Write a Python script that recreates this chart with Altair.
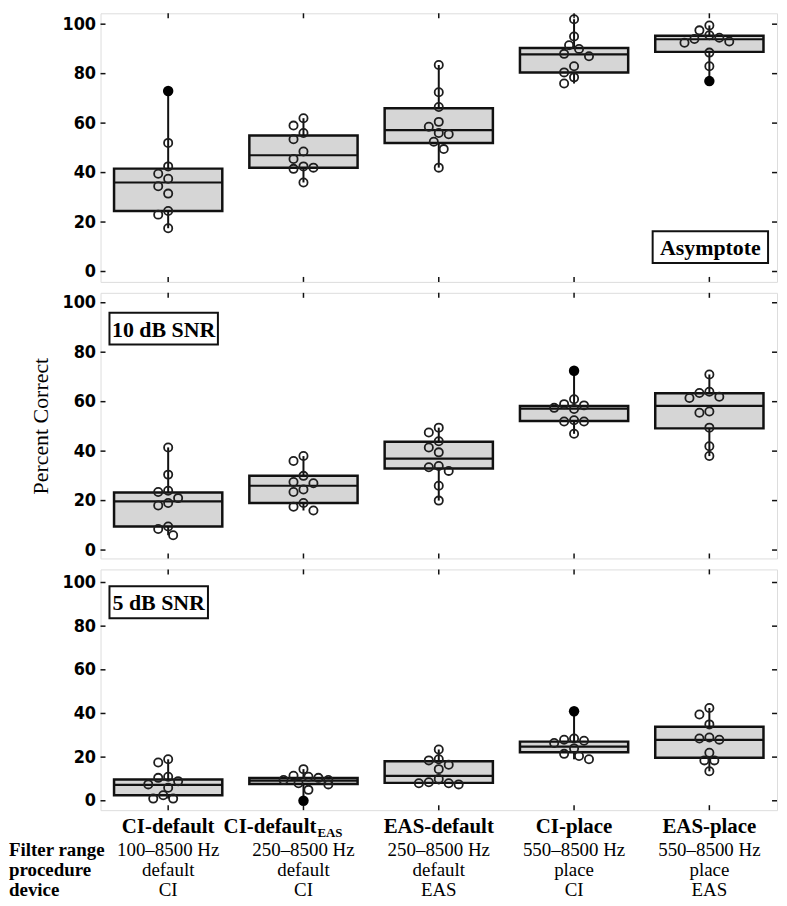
import altair as alt
import pandas as pd

# ---------------- data ----------------
categories = ["CI-default", "CI-default_EAS", "EAS-default", "CI-place", "EAS-place"]
header_main = ["CI-default", "CI-default", "EAS-default", "CI-place", "EAS-place"]
header_sub = ["", "EAS", "", "", ""]
row_names = ["Filter range", "procedure", "device"]
filter_range = ["100–8500 Hz", "250–8500 Hz", "250–8500 Hz", "550–8500 Hz", "550–8500 Hz"]
procedure = ["default", "default", "default", "place", "place"]
device = ["CI", "CI", "EAS", "CI", "EAS"]
panel_labels = ["Asymptote", "10 dB SNR", "5 dB SNR"]
y_ticks = [0, 20, 40, 60, 80, 100]

# Asymptote
asym_open = [
    [52, 42.5, 39.5, 37.5, 34.5, 31.5, 24.5, 23, 17.5],
    [62, 59, 56, 53.5, 48.5, 45.5, 42.5, 42, 41.5, 36],
    [83.5, 72.5, 66.5, 60.5, 58.5, 56, 55.5, 52.5, 49.5, 42],
    [102, 95, 91.5, 90, 88, 87, 83, 80.5, 78.5, 76],
    [99.5, 97.5, 95.5, 94.5, 94, 93, 92.5, 88.5, 83],
]
asym_filled = [[73], [], [], [], [77]]
asym_q1 = [24.5, 42, 52, 80.5, 88.8]
asym_med = [36, 47, 57.2, 87.8, 93.9]
asym_q3 = [41.6, 55, 66, 90.4, 95.3]

# 10 dB SNR
snr10_open = [
    [41.5, 30.5, 24, 23.5, 21, 19, 18, 9.5, 8.5, 6],
    [38, 36, 30, 27.5, 27, 24.5, 23.5, 19, 17.5, 16],
    [49.5, 47.5, 44, 41.5, 39.5, 34, 33.5, 32, 26, 20],
    [61, 59, 58.5, 57.5, 57, 52.5, 52, 52, 47],
    [71, 64, 63.5, 62, 61.5, 56, 55.5, 49.5, 42, 38],
]
snr10_filled = [[], [], [], [72.5], []]
snr10_q1 = [9.5, 19, 33, 52.2, 49.2]
snr10_med = [19.7, 26, 37, 57.2, 58.3]
snr10_q3 = [23.3, 30, 43.8, 58.3, 63.4]

# 5 dB SNR
snr5_open = [
    [19, 17.5, 11, 10.5, 9, 7.5, 6, 2.5, 1, 1],
    [14.5, 11.5, 11, 10.5, 9.5, 9.5, 8, 7.5, 5],
    [23.5, 19, 18.5, 16.5, 14.5, 10, 8.5, 8, 8, 7.5],
    [28.5, 28, 27.5, 26.5, 24, 21.5, 20.5, 19],
    [42.5, 39.5, 35, 29, 28.5, 28, 22, 18.5, 18.5, 13.5],
]
snr5_filled = [[], [0], [], [41], []]
snr5_q1 = [2.5, 7.7, 8.2, 22.2, 19.7]
snr5_med = [7.3, 9.2, 11.4, 24.8, 27.9]
snr5_q3 = [9.7, 10.4, 18.1, 27.1, 33.9]

# ---------------- layout ----------------
W = 680
N = len(categories)
BAND = W / N
BOX_FRAC = 0.8
HEIGHTS = [270, 267, 242]
DOMAINS = [(-4.2, 104.4), (-3.4, 104.0), (-4.3, 106.0)]
LABEL_BOXES = [(555, 671, 219, 251), (9, 118, 20, 52), (9, 108, 17, 49)]

SERIF = "Liberation Serif"
SANS = "DejaVu Sans Condensed, DejaVu Sans"
INK = "#111111"


def swarm(vals, ppu, step=5.0, d=9.0):
    order = sorted(range(len(vals)), key=lambda i: -vals[i])
    placed = []
    offs = [0.0] * len(vals)
    cands = [0.0]
    for k in range(1, 6):
        cands += [-k * step, k * step]
    for i in order:
        y = vals[i] * ppu
        chosen = cands[-1]
        for c in cands:
            if all((c - ox) ** 2 + (y - oy) ** 2 >= d * d for ox, oy in placed):
                chosen = c
                break
        offs[i] = chosen
        placed.append((chosen, y))
    return offs


def panel(idx, opens, filleds, q1, med, q3, bottom=False):
    h = HEIGHTS[idx]
    dom = DOMAINS[idx]
    ppu = h / (dom[1] - dom[0])

    rows = []
    for ci in range(N):
        vals = opens[ci] + filleds[ci]
        flags = [False] * len(opens[ci]) + [True] * len(filleds[ci])
        offs = swarm(vals, ppu)
        for v, f, o in zip(vals, flags, offs):
            rows.append({"pos": ci + o / BAND, "v": v, "filled": f})
    pts = pd.DataFrame(rows)
    half = BOX_FRAC / 2
    stats = pd.DataFrame({
        "pos": list(range(N)),
        "left": [i - half for i in range(N)],
        "right": [i + half for i in range(N)],
        "q1": q1, "med": med, "q3": q3,
        "lo": [min(opens[i] + filleds[i]) for i in range(N)],
        "hi": [max(opens[i] + filleds[i]) for i in range(N)],
    })
    ticks_df = pd.DataFrame({"t": y_ticks})
    cats_df = pd.DataFrame({"pos": list(range(N))})

    xs = alt.Scale(domain=[-0.5, N - 0.5], nice=False, zero=False)
    ys = alt.Scale(domain=list(dom), nice=False, zero=False)
    yaxis = alt.Axis(
        values=y_ticks, ticks=False, domain=False, grid=False,
        labelFont=SANS, labelFontSize=18, labelFontWeight="bold", labelColor="black",
        labelPadding=5,
        titleFont=SERIF, titleFontSize=22, titleFontWeight="normal",
        titleColor="black" if idx == 1 else "transparent",
        titleX=-60, titleY=h / 2, titleAngle=270, titleBaseline="middle", titleAlign="center",
    )
    TITLE = "Percent Correct"

    def X(f="pos:Q"):
        return alt.X(f, scale=xs, axis=None)

    def Y(f):
        return alt.Y(f, scale=ys, axis=yaxis, title=TITLE)

    whisk = alt.Chart(stats).mark_rule(color=INK, strokeWidth=2).encode(
        x=X(), y=Y("lo:Q"), y2="hi:Q")
    box = alt.Chart(stats).mark_rect(
        fill="#d6d6d6", stroke=INK, strokeWidth=2.5
    ).encode(x=X("left:Q"), x2="right:Q", y=Y("q1:Q"), y2="q3:Q")
    median = alt.Chart(stats).mark_rule(color=INK, strokeWidth=2.2).encode(
        x=X("left:Q"), x2="right:Q", y=Y("med:Q"))
    open_pts = alt.Chart(pts).transform_filter("!datum.filled").mark_point(
        shape="circle", filled=False, stroke="#1e1e1e", strokeWidth=1.8, size=68, opacity=1
    ).encode(x=X(), y=Y("v:Q"))
    fill_pts = alt.Chart(pts).transform_filter("datum.filled").mark_circle(
        color="black", opacity=1, size=110
    ).encode(x=X(), y=Y("v:Q"))

    lt = alt.Chart(ticks_df).mark_rule(color=INK, strokeWidth=1.5).encode(
        x=alt.value(0), x2=alt.value(5), y=Y("t:Q"))
    rt = alt.Chart(ticks_df).mark_rule(color=INK, strokeWidth=1.5).encode(
        x=alt.value(W - 5), x2=alt.value(W), y=Y("t:Q"))
    tt = alt.Chart(cats_df).mark_rule(color=INK, strokeWidth=1.5).encode(
        x=X(), y=alt.value(0), y2=alt.value(5))
    bt = alt.Chart(cats_df).mark_rule(color=INK, strokeWidth=1.5).encode(
        x=X(), y=alt.value(h - 5), y2=alt.value(h))

    bx = LABEL_BOXES[idx]
    lab_df = pd.DataFrame({"label": [panel_labels[idx]]})
    lab_rect = alt.Chart(lab_df).mark_rect(fill="white", stroke=INK, strokeWidth=2).encode(
        x=alt.value(bx[0]), x2=alt.value(bx[1]), y=alt.value(bx[2]), y2=alt.value(bx[3]))
    lab_text = alt.Chart(lab_df).mark_text(
        font=SERIF, fontSize=22, fontWeight="bold", color="black", align="center", baseline="middle"
    ).encode(x=alt.value((bx[0] + bx[1]) / 2), y=alt.value((bx[2] + bx[3]) / 2 + 1), text="label:N")

    layers = [whisk, box, median, open_pts, fill_pts, lt, rt, tt, bt, lab_rect, lab_text]

    if bottom:
        head_df = pd.DataFrame({"pos": list(range(N)), "main": header_main, "sub": header_sub})
        plain = alt.Chart(head_df).transform_filter("datum.sub == ''").mark_text(
            font=SERIF, fontSize=21, fontWeight="bold", color="black", baseline="middle"
        ).encode(x=X(), y=alt.value(h + 17), text="main:N")
        withsub = alt.Chart(head_df).transform_filter("datum.sub != ''").mark_text(
            font=SERIF, fontSize=21, fontWeight="bold", color="black", baseline="middle",
            align="right", dx=13
        ).encode(x=X(), y=alt.value(h + 17), text="main:N")
        subtxt = alt.Chart(head_df).transform_filter("datum.sub != ''").mark_text(
            font=SERIF, fontSize=13, fontWeight="bold", color="black", baseline="middle",
            align="left", dx=14
        ).encode(x=X(), y=alt.value(h + 23), text="sub:N")
        layers += [plain, withsub, subtxt]
        for r, vals in enumerate([filter_range, procedure, device]):
            ydy = h + 40 + r * 20
            df = pd.DataFrame({"pos": list(range(N)), "txt": vals})
            layers.append(alt.Chart(df).mark_text(
                font=SERIF, fontSize=19, color="black", baseline="middle"
            ).encode(x=X(), y=alt.value(ydy), text="txt:N"))
            rn = pd.DataFrame({"txt": [row_names[r]]})
            layers.append(alt.Chart(rn).mark_text(
                font=SERIF, fontSize=19, fontWeight="bold", color="black",
                baseline="middle", align="left"
            ).encode(x=alt.value(-92), y=alt.value(ydy), text="txt:N"))

    return alt.layer(*layers).properties(width=W, height=h)


p1 = panel(0, asym_open, asym_filled, asym_q1, asym_med, asym_q3)
p2 = panel(1, snr10_open, snr10_filled, snr10_q1, snr10_med, snr10_q3)
p3 = panel(2, snr5_open, snr5_filled, snr5_q1, snr5_med, snr5_q3, bottom=True)

chart = alt.vconcat(p1, p2, p3, spacing=7).properties(
    padding={"left": 0, "top": 0, "right": 0, "bottom": 0}
).configure_view(
    stroke="black", strokeWidth=2
).configure(background="white")

chart.save("out.html", embed_options={"renderer": "svg", "actions": False})
